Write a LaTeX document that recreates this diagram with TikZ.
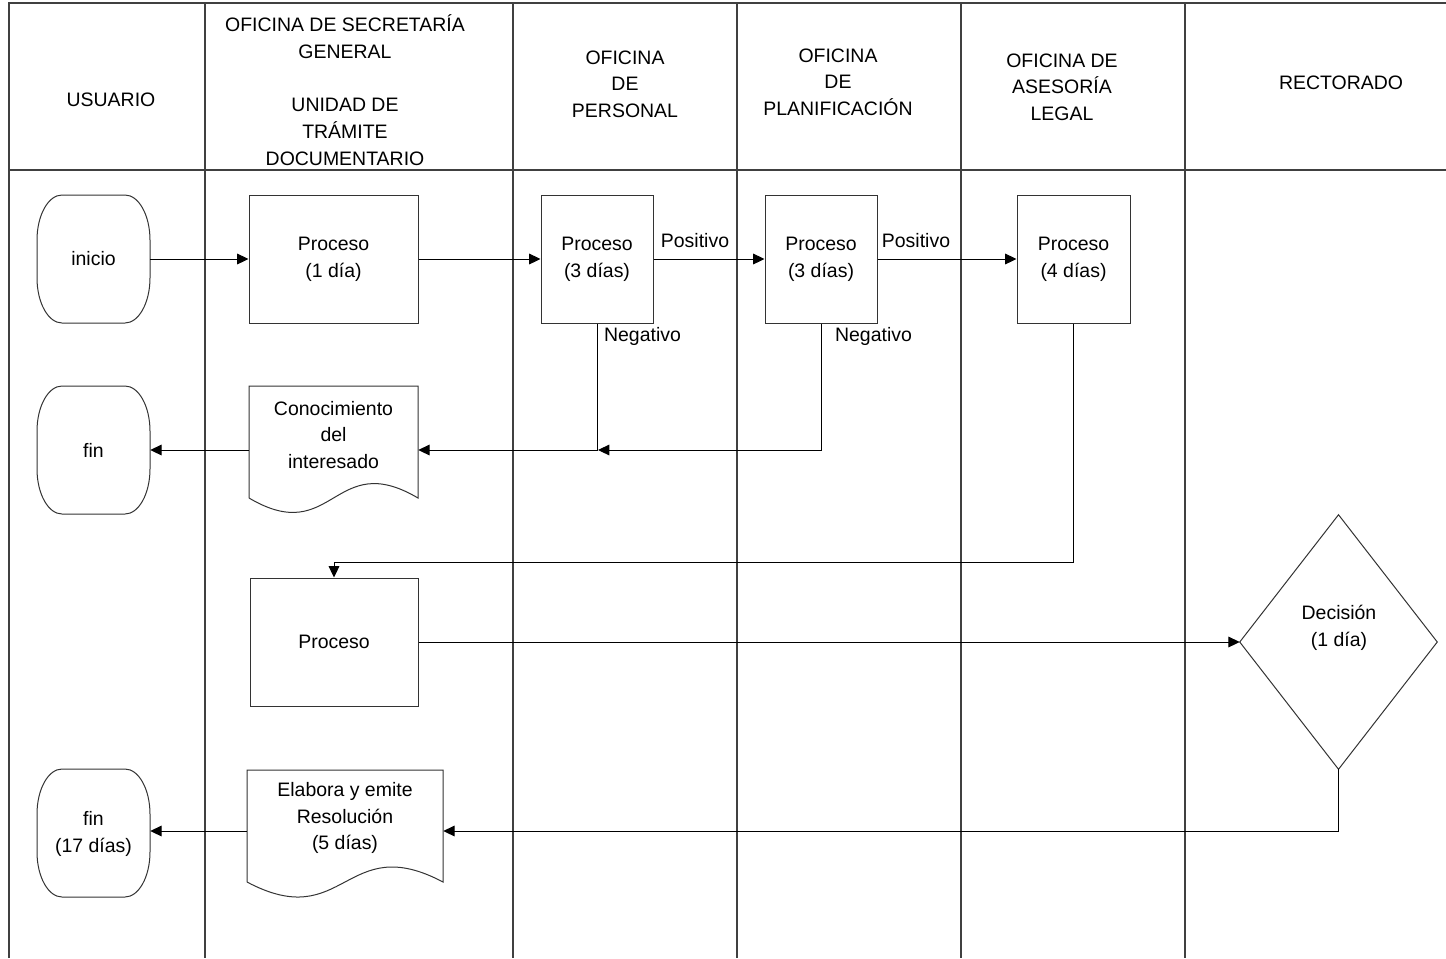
\documentclass[tikz,border=0pt]{standalone}
\usepackage{fontspec}
\setmainfont{Liberation Sans}
\usetikzlibrary{arrows.meta}
\tikzset{
  x=0.75pt, y=-0.75pt,
  txt/.style={font=\fontsize{14.6pt}{20pt}\selectfont, align=center, inner sep=0pt},
  grid/.style={draw=black!75, line width=0.9pt},
  shp/.style={draw=black!80, line width=0.75pt},
  proc/.style={shp, txt, minimum width=#1*0.75pt, minimum height=128*0.75pt},
  box/.style={txt, minimum width=#1, minimum height=128*0.75pt},
  arr/.style={draw=black, line width=0.75pt, -{Triangle[length=8.5pt,width=8pt]}},
  term/.pic={\draw[shp] (25,0) -- (88,0) .. controls (101.75,0) and (113,20.25) .. (113,45)
     -- (113,83) .. controls (113,107.75) and (101.75,128) .. (88,128) -- (25,128)
     .. controls (11.25,128) and (0,107.75) .. (0,83) -- (0,45)
     .. controls (0,20.25) and (11.25,0) .. (25,0) -- cycle;}
}
\begin{document}
\begin{tikzpicture}
\useasboundingbox (0,0) rectangle (1446,958);
% lanes
\draw[grid] (9,958) -- (9,3) -- (1446,3);
\draw[grid] (9,170) -- (1446,170);
\foreach \xx in {205,513,737,961,1185} \draw[grid] (\xx,3) -- (\xx,958);
% headers
\node[txt] (h1) at (111,100) {USUARIO};
\node[txt] (h2) at (345,90) {OFICINA DE SECRETARÍA\\GENERAL\\\mbox{}\\UNIDAD DE\\TRÁMITE\\DOCUMENTARIO};
\node[txt] (h3) at (625,84) {OFICINA\\DE\\PERSONAL};
\node[txt] (h4) at (838,82) {OFICINA\\DE\\PLANIFICACIÓN};
\node[txt] (h5) at (1062,87) {OFICINA DE\\ASESORÍA\\LEGAL};
\node[txt] (h6) at (1341,83) {RECTORADO};
% terminals
\pic at (37,195) {term};
\pic at (37,386) {term};
\pic at (37,769) {term};
\node[box=113*0.75pt] (ini) at (93.5,259) {inicio};
\node[box=113*0.75pt] (fin1) at (93.5,450) {fin};
\node[box=113*0.75pt] (fin2) at (93.5,834) {fin\\(17 días)};
% processes
\node[proc=169] (p1) at (333.5,259) {Proceso\\(1 día)};
\node[proc=112] (p2) at (597,259) {Proceso\\(3 días)};
\node[proc=112] (p3) at (821,259) {Proceso\\(3 días)};
\node[proc=113] (p4) at (1073.5,259) {Proceso\\(4 días)};
\node[proc=168] (p5) at (334,642) {Proceso};
% document 1
\draw[shp] (249,498) -- (249,386) -- (418,386) -- (418,498)
  .. controls (333.5,448) and (333.5,548) .. (249,498);
\node[box=169*0.75pt] (doc1) at (333.5,450) {};
\node[txt] (doc1t) at (333.5,435) {Conocimiento\\del\\interesado};
% document 2
\draw[shp] (247,882) -- (247,770) -- (443,770) -- (443,882)
  .. controls (345,830) and (345,934) .. (247,882);
\node[box=196*0.75pt, minimum height=122*0.75pt] (doc2) at (345,831) {};
\node[txt] (doc2t) at (345,818) {Elabora y emite\\Resolución\\(5 días)};
% decision
\node[txt, minimum width=197*0.75pt, minimum height=254*0.75pt] (dec) at (1338.5,642) {};
\draw[shp] (dec.north) -- (dec.east) -- (dec.south) -- (dec.west) -- cycle;
\node[txt] (dect) at (1339,628) {Decisión\\(1 día)};
% labels
\node[txt] (pos1) at (695,241) {Positivo};
\node[txt] (pos2) at (916,241) {Positivo};
\node[txt] (neg1) at (642.5,336) {Negativo};
\node[txt] (neg2) at (873.5,336) {Negativo};
% connectors
\coordinate (c1) at (598,450);
\coordinate (c2) at (1073.5,562);
\draw[arr] (ini) -- (p1);
\draw[arr] (p1) -- (p2);
\draw[arr] (p2) -- (p3);
\draw[arr] (p3) -- (p4);
\draw[arr] (p3.south) |- (c1);
\draw[arr] (p2.south) |- (doc1.east);
\draw[arr] (doc1.west) -- (fin1.east);
\draw[arr] (p4.south) |- (p5.north |- c2) -- (p5.north);
\draw[arr] (p5.east) -- (dec.west);
\draw[arr] (dec.south) |- (doc2.east);
\draw[arr] (doc2.west) -- (doc2.west -| fin2.east);
\end{tikzpicture}
\end{document}
